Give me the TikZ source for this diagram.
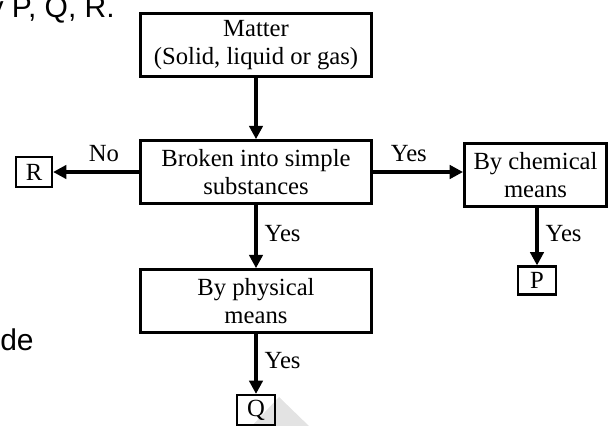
\documentclass[tikz,border=0pt]{standalone}
\usepackage{fontspec}
\setmainfont{Liberation Serif}
\newfontfamily\pagefont{Liberation Sans}
\usepackage{tikz}
\usetikzlibrary{arrows.meta, positioning}

\begin{document}
\begin{tikzpicture}[x=0.75pt, y=-0.75pt,
  font=\fontsize{18.5}{21}\selectfont,
  flowbox/.style={draw, line width=2.2pt, minimum width=173pt, minimum height=47pt, align=center, inner sep=0pt},
  endbox/.style={draw, line width=1.6pt, minimum width=29pt, minimum height=21pt, inner sep=0pt},
  arrow/.style={line width=3pt, -{Triangle[length=10pt, width=10pt]}},
  lbl/.style={inner sep=2pt},
  pagetext/.style={font=\pagefont\fontsize{22.5}{26}\selectfont, inner sep=0pt}]
  \useasboundingbox (0,0) rectangle (609,425);
  \clip (0,0) rectangle (609,425);

  % Page text around the figure
  \node[pagetext, anchor=base east] (toptext) at (115,17) {y P, Q, R.};
  \node[pagetext, anchor=base west] (sidetext) at (0,350) {de};

  % Watermark corner
  \fill[gray!22] (279,397) -- (311,428) -- (250,428) -- cycle;

  % Boxes
  \node[flowbox] (matter) at (256,45) {Matter\\(Solid, liquid or gas)};
  \node[flowbox] (broken) at (256,172) {Broken into simple\\substances};
  \node[flowbox] (phys) at (256,301) {By physical\\means};
  \node[flowbox, minimum width=106.5pt] (chem) at (535.5,175) {By chemical\\means};
  \node[endbox, minimum width=27pt, minimum height=23pt] (r) at (34,172) {R};
  \node[endbox] (p) at (537,280.5) {P};
  \node[endbox, minimum height=22.5pt] (q) at (256,410) {Q};

  % Connectors
  \draw[arrow] (matter) -- (broken);
  \draw[arrow] (broken) -- node[lbl, above=4pt, pos=0.41] {No} (r);
  \draw[arrow] (broken.east) -- node[lbl, above=4pt, pos=0.4] {Yes} (broken.east -| chem.west);
  \draw[arrow] (broken) -- node[lbl, right=3pt, pos=0.45] {Yes} (phys);
  \draw[arrow] (phys) -- node[lbl, right=3pt, pos=0.45] {Yes} (q);
  \draw[arrow] (chem.south -| p) -- node[lbl, right=3pt, pos=0.45] {Yes} (p);
\end{tikzpicture}
\end{document}
